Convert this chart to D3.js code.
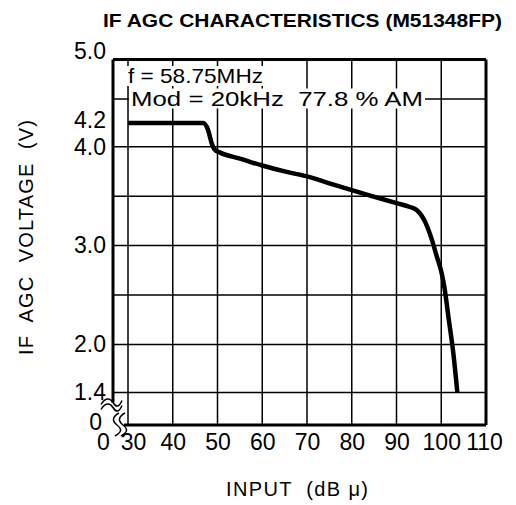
<!DOCTYPE html>
<html>
<head>
<meta charset="utf-8">
<script src="https://cdn.jsdelivr.net/npm/d3@7"></script>
<style>
  body { margin: 0; background: #fff; }
  text { font-family: "Liberation Sans", Arial, sans-serif; fill: #000; }
</style>
</head>
<body>
<script>
// data
var inputDb = [30, 46.8, 47.9, 48.7, 49.4, 50.6, 55, 60, 65, 70, 75, 80, 84.5, 90, 93, 94.5, 96.4, 97.9, 99, 100.1, 100.8, 101.6, 102.7, 103.6];
var agcVolt = [4.2, 4.2, 4.14, 4.03, 3.97, 3.94, 3.88, 3.81, 3.75, 3.70, 3.63, 3.56, 3.50, 3.43, 3.39, 3.36, 3.24, 3.06, 2.89, 2.72, 2.55, 2.28, 1.89, 1.4];

var xTicks = [0, 30, 40, 50, 60, 70, 80, 90, 100, 110];
var xGrid = [30, 40, 50, 60, 70, 80, 90, 100];
var yTicks = [0, 1.4, 2.0, 3.0, 4.0, 4.2, 5.0];
var yGrid = [1.4, 2.0, 2.5, 3.0, 3.5, 4.0, 4.5];

var noteLines = ["f = 58.75MHz", "Mod = 20kHz  77.8 % AM"];

// set the dimensions and margins of the graph
var margin = {top: 59.5, right: 30, bottom: 80, left: 113},
    width = 516 - margin.left - margin.right,
    height = 505 - margin.top - margin.bottom;

var root = d3.select("body")
  .append("svg")
    .attr("width", 516)
    .attr("height", 505);

var svg = root.append("g")
    .attr("transform", "translate(" + margin.left + "," + margin.top + ")");

// broken axes: 0 sits just outside the 30 / 1.4 grid lines
var x = d3.scaleLinear()
  .domain([0, 30, 110])
  .range([0, 15, width]);

var y = d3.scaleLinear()
  .domain([0, 1.4, 2, 4, 4.2, 4.5, 5])
  .range([height, height - 32.5, height - 80.5, height - 278.3, height - 302, height - 326, 0]);

// grid
svg.selectAll("line.vgrid")
  .data(xGrid)
  .enter()
  .append("line")
    .attr("x1", function(d) { return x(d); })
    .attr("x2", function(d) { return x(d); })
    .attr("y1", 0)
    .attr("y2", height)
    .attr("stroke", "#000")
    .attr("stroke-width", 1.5);

svg.selectAll("line.hgrid")
  .data(yGrid)
  .enter()
  .append("line")
    .attr("x1", 0)
    .attr("x2", width)
    .attr("y1", function(d) { return y(d); })
    .attr("y2", function(d) { return y(d); })
    .attr("stroke", "#000")
    .attr("stroke-width", 1.5);

// notes with white background
var notes = svg.append("g");
noteLines.forEach(function(t, i) {
  var tx = notes.append("text")
    .attr("x", x(30) + (i ? 3 : 0))
    .attr("y", i ? y(4.5) + 6.5 : y(4.5) - 16)
    .attr("font-size", 21)
    .attr("textLength", i ? 292 : 135)
    .attr("lengthAdjust", "spacingAndGlyphs")
    .style("white-space", "pre")
    .text(t);
  var bb = tx.node().getBBox();
  notes.insert("rect", "text")
    .attr("x", bb.x - 2)
    .attr("y", bb.y + 2)
    .attr("width", bb.width + 4)
    .attr("height", bb.height - 3)
    .attr("fill", "#fff");
});

// frame (left and bottom are cut at the axis break)
var frame = svg.append("g")
  .attr("stroke", "#000")
  .attr("stroke-width", 3)
  .attr("fill", "none");
frame.append("line").attr("x1", 0).attr("x2", width).attr("y1", 0).attr("y2", 0);
frame.append("line").attr("x1", width).attr("x2", width).attr("y1", 0).attr("y2", height);
frame.append("line").attr("x1", 11).attr("x2", width).attr("y1", height).attr("y2", height);
frame.append("line").attr("x1", 0).attr("x2", 0).attr("y1", 0).attr("y2", y(1.4) + 10);

// break marks
var brk = svg.append("g")
  .attr("stroke", "#000")
  .attr("stroke-width", 1.5)
  .attr("fill", "none");
[0, 5].forEach(function(o) {
  var yb = y(1.4) + 10 + o;
  brk.append("path")
    .attr("d", "M-12," + (yb + 2) + " C-8," + (yb - 5) + " -3," + (yb - 5) + " 0," + yb +
               " S6," + (yb + 5) + " 9," + (yb - 2));
});
[4, 10].forEach(function(o) {
  var yb = height - 12;
  brk.append("path")
    .attr("d", "M" + (o + 2) + "," + yb + " C" + (o - 5) + "," + (yb + 4) + " " + (o - 5) + "," + (yb + 8) + " " + o + "," + (yb + 12) +
               " S" + (o + 5) + "," + (yb + 19) + " " + (o - 2) + "," + (yb + 23));
});

// curve
var line = d3.line()
  .x(function(d) { return x(d[0]); })
  .y(function(d) { return y(d[1]); })
  .curve(d3.curveMonotoneX);

svg.append("path")
  .datum(d3.zip(inputDb, agcVolt))
  .attr("d", line)
  .attr("fill", "none")
  .attr("stroke", "#000")
  .attr("stroke-width", 4.5)
  .attr("stroke-linejoin", "round");

// X axis
var xAxis = svg.append("g")
  .attr("transform", "translate(0," + height + ")")
  .call(d3.axisBottom(x).tickValues(xTicks).tickSize(0).tickPadding(9)
        .tickFormat(function(d) { return d; }));
xAxis.select(".domain").remove();
xAxis.selectAll("text")
  .attr("font-size", 23)
  .attr("font-family", "Liberation Sans, Arial, sans-serif")
  .attr("dx", function(d) { return d === 0 ? -10 : d === 30 ? 5 : d === 110 ? -2 : 0; });

// Y axis
var yAxis = svg.append("g")
  .call(d3.axisLeft(y).tickValues(yTicks).tickSize(0).tickPadding(7)
        .tickFormat(function(d) { return d === 0 ? "0" : d.toFixed(1); }));
yAxis.select(".domain").remove();
yAxis.selectAll("text")
  .attr("font-size", 23)
  .attr("font-family", "Liberation Sans, Arial, sans-serif")
  .attr("transform", function(d) {
    if (d === 5) return "translate(0,-8)";
    if (d === 4.2) return "translate(0,-3)";
    if (d === 0) return "translate(-4,-3)";
    return null;
  });

// titles
root.append("text")
  .attr("x", 103)
  .attr("y", 27)
  .attr("font-size", 18)
  .attr("font-weight", "bold")
  .attr("textLength", 399)
  .attr("lengthAdjust", "spacingAndGlyphs")
  .text("IF AGC CHARACTERISTICS (M51348FP)");

root.append("text")
  .attr("x", 297)
  .attr("y", 496)
  .attr("text-anchor", "middle")
  .attr("font-size", 20)
  .attr("textLength", 142)
  .style("white-space", "pre")
  .text("INPUT  (dB μ)");

root.append("text")
  .attr("transform", "translate(33,237.5)rotate(-90)")
  .attr("text-anchor", "middle")
  .attr("font-size", 20)
  .attr("textLength", 235)
  .style("white-space", "pre")
  .text("IF  AGC  VOLTAGE  (V)");
</script>
</body>
</html>
